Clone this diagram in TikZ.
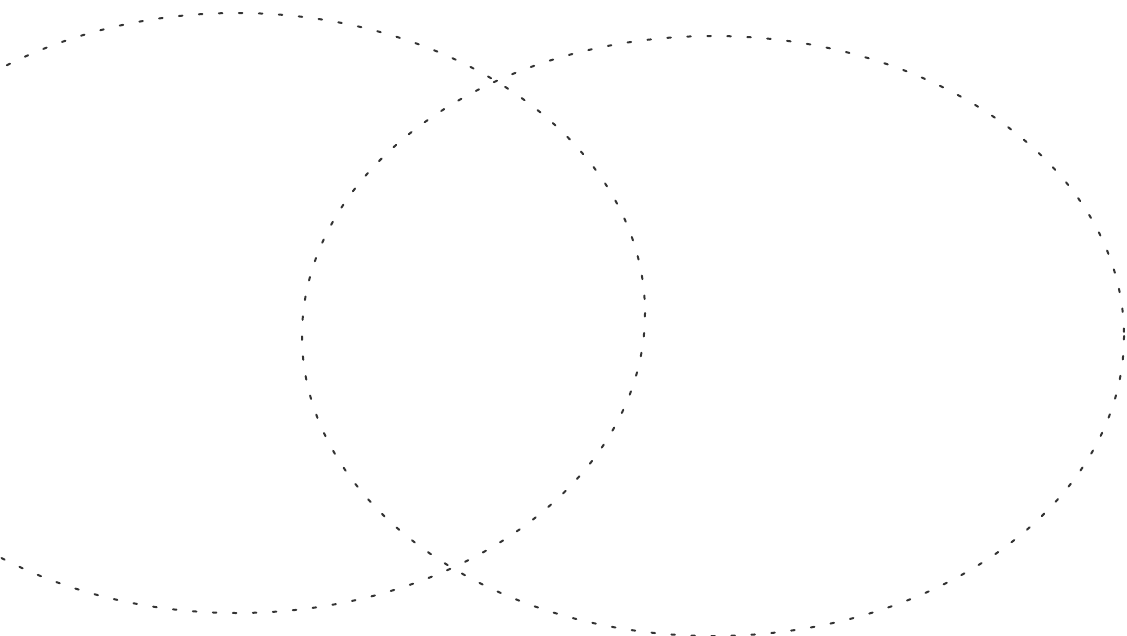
\documentclass[tikz,border=0pt]{standalone}
\begin{document}
\begin{tikzpicture}[x=1pt,y=-1pt,
  dashring/.style={draw=black!80, line width=2pt, dash pattern=on 3.5pt off 16.5pt, line cap=round}]
\useasboundingbox (0,0) rectangle (1127,635);
\fill[white] (0,0) rectangle (1127,635);
% left ring
\draw[dashring] (237,313) ellipse [x radius=408, y radius=300];
% right ring
\draw[dashring] (713,336) ellipse [x radius=411, y radius=300];
\end{tikzpicture}
\end{document}
